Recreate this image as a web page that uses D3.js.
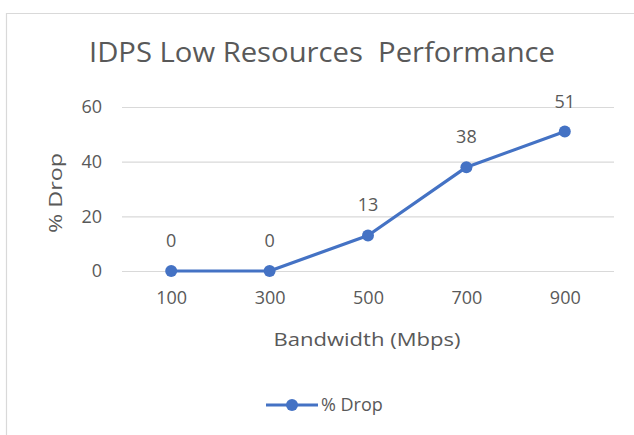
<!DOCTYPE html>
<html>
<head>
<meta charset="utf-8">
<script src="https://cdn.jsdelivr.net/npm/d3@7"></script>
<style>
  html, body { margin: 0; padding: 0; background: #fff; }
  svg { display: block; }
  text { font-family: "Open Sans", "Liberation Sans", sans-serif; fill: #595959; }
</style>
</head>
<body>
<svg id="chart" width="634" height="435"></svg>
<script>
// Bandwidth categories and packet drop percentages
const bandwidths = ["100", "300", "500", "700", "900"];
const dropValues = [0, 0, 13, 38, 51];
const yTicks = [0, 20, 40, 60];
const seriesName = "% Drop";
const chartTitle = "IDPS Low Resources  Performance";
const xTitle = "Bandwidth (Mbps)";
const yTitle = "% Drop";

const svg = d3.select("#chart");
const W = 634, H = 435;
const plot = { left: 122, right: 614, top: 107, bottom: 271 };
const lineColor = "#4472C4";
const labelSize = 18;

// Chart frame
svg.append("path")
  .attr("d", `M6.5,${H} V13.5 H${W}`)
  .attr("fill", "none")
  .attr("stroke", "#d9d9d9")
  .attr("stroke-width", 1.2);

const x = d3.scalePoint()
  .domain(bandwidths)
  .range([plot.left, plot.right])
  .padding(0.5);

const y = d3.scaleLinear()
  .domain([0, 60])
  .range([plot.bottom, plot.top]);

// Horizontal gridlines with y tick labels
const yAxis = d3.axisLeft(y)
  .tickValues(yTicks)
  .tickSize(-(plot.right - plot.left))
  .tickPadding(20);

const gy = svg.append("g")
  .attr("transform", `translate(${plot.left},0)`)
  .call(yAxis);
gy.select(".domain").remove();
gy.selectAll(".tick line").attr("stroke", "#d9d9d9").attr("stroke-width", 1.2);
gy.selectAll(".tick text")
  .attr("font-size", labelSize)
  .style("fill", "#595959")
  .attr("font-family", "Open Sans, Liberation Sans, sans-serif");

// Category labels along the bottom
const xAxis = d3.axisBottom(x).tickSize(0).tickPadding(20);
const gx = svg.append("g")
  .attr("transform", `translate(0,${plot.bottom})`)
  .call(xAxis);
gx.select(".domain").remove();
gx.selectAll(".tick text")
  .attr("font-size", labelSize)
  .style("fill", "#595959")
  .attr("font-family", "Open Sans, Liberation Sans, sans-serif");

// Title
svg.append("text")
  .attr("x", 322)
  .attr("y", 62)
  .attr("text-anchor", "middle")
  .attr("font-size", 28)
  .attr("textLength", 466)
  .attr("lengthAdjust", "spacingAndGlyphs")
  .attr("xml:space", "preserve")
  .style("white-space", "pre")
  .text(chartTitle);

// Axis titles
svg.append("text")
  .attr("x", 367)
  .attr("y", 346)
  .attr("text-anchor", "middle")
  .attr("font-size", 19)
  .attr("textLength", 187)
  .attr("lengthAdjust", "spacingAndGlyphs")
  .text(xTitle);

svg.append("text")
  .attr("transform", `translate(62,193) rotate(-90)`)
  .attr("text-anchor", "middle")
  .attr("font-size", 19)
  .attr("textLength", 80)
  .attr("lengthAdjust", "spacingAndGlyphs")
  .text(yTitle);

// Series line and markers
const data = bandwidths.map((b, i) => ({ b, v: dropValues[i] }));
const line = d3.line().x(d => x(d.b)).y(d => y(d.v));

svg.append("path")
  .datum(data)
  .attr("d", line)
  .attr("fill", "none")
  .attr("stroke", lineColor)
  .attr("stroke-width", 3.2)
  .attr("stroke-linejoin", "round");

svg.selectAll("circle.pt")
  .data(data)
  .join("circle")
  .attr("class", "pt")
  .attr("cx", d => x(d.b))
  .attr("cy", d => y(d.v))
  .attr("r", 6)
  .attr("fill", lineColor);

// Value labels above each point
svg.selectAll("text.val")
  .data(data)
  .join("text")
  .attr("class", "val")
  .attr("x", d => x(d.b))
  .attr("y", d => y(d.v) - 24)
  .attr("text-anchor", "middle")
  .attr("font-size", labelSize)
  .text(d => d.v);

// Legend
const lg = svg.append("g").attr("transform", "translate(266,405)");
lg.append("line")
  .attr("x1", 0).attr("x2", 52)
  .attr("stroke", lineColor)
  .attr("stroke-width", 3.2);
lg.append("circle")
  .attr("cx", 26).attr("r", 6)
  .attr("fill", lineColor);
lg.append("text")
  .attr("x", 55)
  .attr("y", 6)
  .attr("font-size", labelSize)
  .text(seriesName);
</script>
</body>
</html>
